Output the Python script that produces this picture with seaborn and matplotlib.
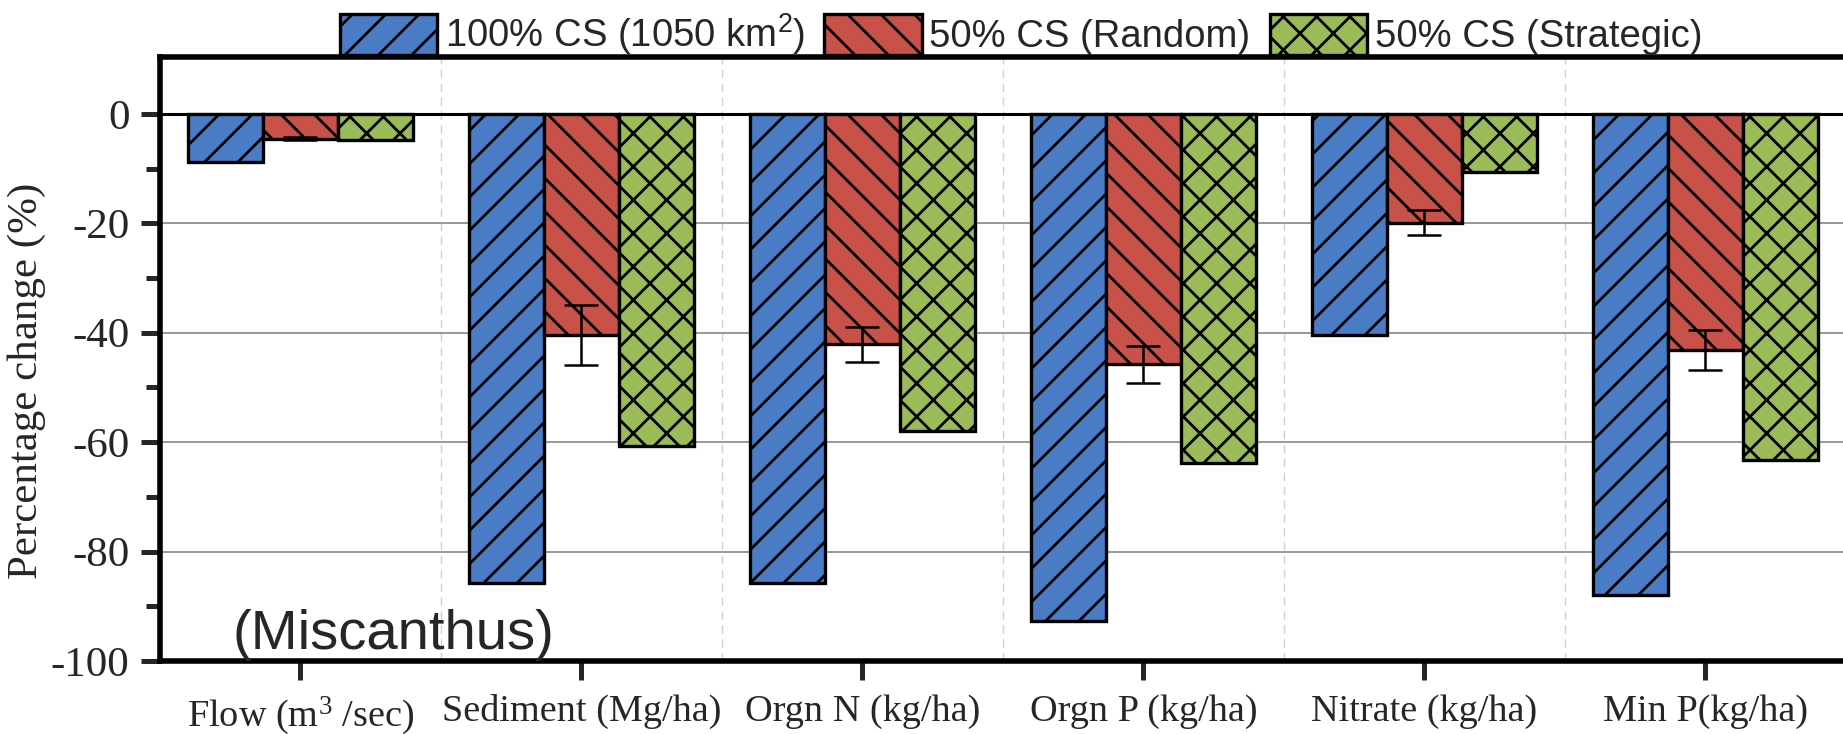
import matplotlib.pyplot as plt
import matplotlib.patches as mpatches
from matplotlib.ticker import MultipleLocator, FixedLocator
import seaborn as sns
import pandas as pd

# values
categories = ["Flow (m$^3$ /sec)", "Sediment (Mg/ha)", "Orgn N (kg/ha)",
              "Orgn P (kg/ha)", "Nitrate (kg/ha)", "Min P(kg/ha)"]
scenarios = ["100% CS (1050 km$^2$)", "50% CS (Random)", "50% CS (Strategic)"]
full_cs = [-8.8, -85.7, -85.7, -92.7, -40.4, -87.9]
random_cs = [-4.5, -40.4, -42.1, -45.8, -19.9, -43.2]
random_err = [0.3, 5.5, 3.2, 3.3, 2.3, 3.7]
strategic_cs = [-4.8, -60.7, -57.9, -63.9, -10.6, -63.3]

colors = ["#4A7CC5", "#C8524A", "#9BBB59"]
hatches = ["/", "\\", "x"]

df = pd.DataFrame({
    "category": categories * 3,
    "scenario": [s for s in scenarios for _ in categories],
    "change": full_cs + random_cs + strategic_cs,
})

sns.set_theme(style="ticks")
plt.rcParams["font.family"] = ["Liberation Serif", "DejaVu Serif"]
plt.rcParams["mathtext.default"] = "regular"
plt.rcParams["axes.unicode_minus"] = False
plt.rcParams["hatch.linewidth"] = 2.0

fig = plt.figure(figsize=(18.43, 7.34), dpi=100)
ax = fig.add_axes([0.0868, 0.0995, 0.9132, 0.8228])

sns.barplot(data=df, x="category", y="change", hue="scenario",
            palette=colors, width=0.80, gap=0, saturation=1,
            edgecolor="black", linewidth=2.4, legend=False, ax=ax, zorder=3)

for cont, h in zip(ax.containers, hatches):
    for bar in cont:
        bar.set_hatch(h)

# error bars only on the random scenario
red_bars = ax.containers[1]
xs = [b.get_x() + b.get_width() / 2 for b in red_bars]
ax.errorbar(xs, random_cs, yerr=random_err, fmt="none", ecolor="black",
            elinewidth=1.8, capsize=12, capthick=1.8, zorder=4)

ax.set_ylim(-100, 10.4)
ax.set_xlim(-0.5, 5.49)
ax.yaxis.set_major_locator(FixedLocator([0, -20, -40, -60, -80, -100]))
ax.yaxis.set_minor_locator(FixedLocator([-10, -30, -50, -70, -90]))
ax.xaxis.set_minor_locator(MultipleLocator(1, offset=0.5))

ax.grid(axis="y", which="major", color="#909090", linewidth=1.3, zorder=0)
ax.grid(axis="x", which="minor", color="#d0d0d0", linewidth=1.0,
        linestyle=(0, (6, 4)), zorder=0)
ax.set_axisbelow(True)
ax.axhline(0, color="black", linewidth=2.2, zorder=2)

for side in ["left", "bottom", "top"]:
    ax.spines[side].set_linewidth(4)
    ax.spines[side].set_color("black")
ax.spines["right"].set_visible(False)

ax.tick_params(axis="y", which="major", length=14, width=3.6, labelsize=31,
               pad=8, direction="out")
ax.tick_params(axis="y", which="minor", length=10, width=3.6, direction="out")
ax.tick_params(axis="x", which="major", length=14, width=3.6, labelsize=27.5,
               pad=10, direction="out")
ax.tick_params(axis="x", which="minor", length=0)

ax.set_xlabel("")
ax.set_ylabel("Percentage change (%)", fontsize=31)
ax.yaxis.set_label_coords(-0.068, 0.463)

ax.text(0.33, -97.8, "(Miscanthus)", fontsize=40.5, ha="center",
        va="baseline", family=["Liberation Sans", "DejaVu Sans"])

handles = [mpatches.Patch(facecolor=c, edgecolor="black", hatch=h,
                          linewidth=2.4, label=s)
           for c, h, s in zip(colors, hatches, scenarios)]
fig.legend(handles=handles, loc="center", bbox_to_anchor=(0.554, 0.953),
           ncol=3, frameon=False, handlelength=2.55, handleheight=1.3,
           handletextpad=0.2, columnspacing=0.5,
           prop={"family": ["Liberation Sans", "DejaVu Sans"], "size": 27.5})

plt.savefig("out.png", dpi=100)
